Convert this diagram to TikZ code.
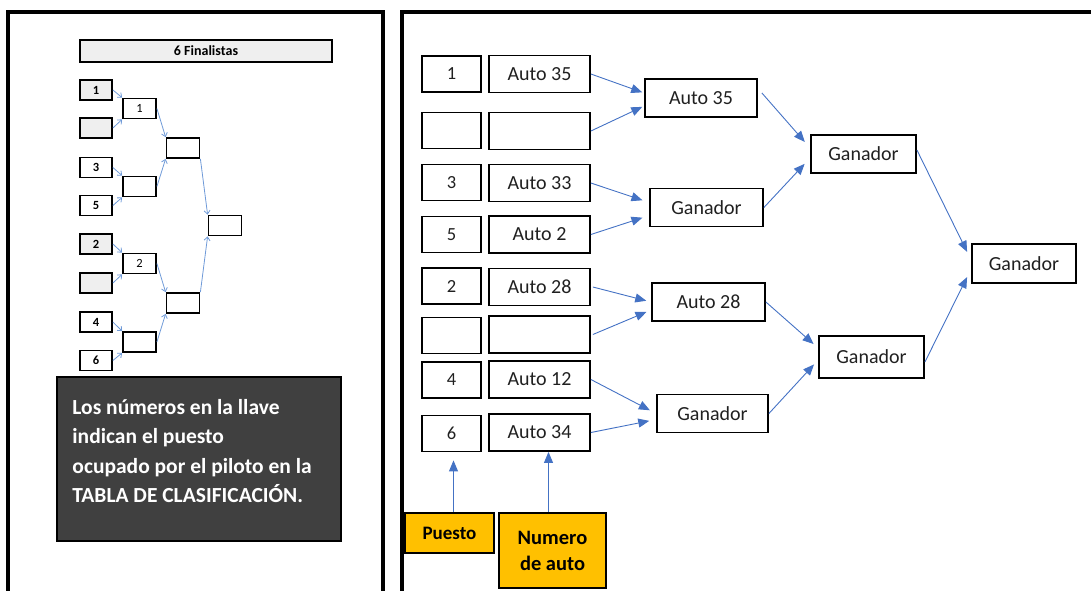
\documentclass[tikz,border=0pt]{standalone}
\usepackage{fontspec}
\setmainfont{Carlito}
\usetikzlibrary{arrows.meta}
\definecolor{arrowblue}{HTML}{4472C4}
\definecolor{lightblue}{HTML}{6F9AD8}
\definecolor{notegray}{HTML}{404040}
\definecolor{keyyellow}{HTML}{FFC000}
\definecolor{seedgray}{HTML}{EFEFEF}
\definecolor{inktext}{HTML}{202020}
\tikzset{
  frameline/.style={line width=4pt},
  titlebar/.style={draw, line width=1.8pt, fill=seedgray, minimum width=252pt, minimum height=22pt, inner sep=0pt, font=\fontsize{14}{16}\selectfont\bfseries},
  seedbox/.style={draw, line width=1.8pt, minimum width=32pt, minimum height=20pt, inner sep=0pt, font=\fontsize{12.5}{14}\selectfont\bfseries},
  roundbox/.style={draw, line width=1.8pt, minimum width=33pt, minimum height=20pt, inner sep=0pt, font=\fontsize{12.5}{14}\selectfont},
  thinarrow/.style={draw=lightblue, line width=0.8pt, -{Straight Barb[length=3.5pt,width=6pt]}},
  notebox/.style={draw, line width=1.5pt, fill=notegray, minimum width=284pt, minimum height=164pt},
  notetext/.style={text=white, align=left, inner sep=0pt, font=\fontsize{21.5}{29.3}\selectfont\bfseries},
  posbox/.style={draw, line width=1.8pt, minimum width=59pt, minimum height=36pt, inner sep=0pt, text=inktext, font=\fontsize{18.5}{21}\selectfont},
  carbox/.style={draw, line width=1.8pt, minimum width=101pt, minimum height=37pt, inner sep=0pt, text=inktext, font=\fontsize{20}{23}\selectfont},
  winbox/.style={draw, line width=1.8pt, minimum width=110pt, minimum height=38pt, inner sep=0pt, text=inktext, font=\fontsize{20}{23}\selectfont},
  keybox/.style={draw, line width=1.8pt, fill=keyyellow, inner sep=0pt, align=center, font=\fontsize{19}{26}\selectfont\bfseries},
  wayarrow/.style={draw=arrowblue, line width=0.9pt, -{Triangle[length=11pt,width=9pt]}}
}
\begin{document}
\begin{tikzpicture}[x=1pt,y=-1pt]
	\clip (0,0) rectangle (1091,590);
	
	% panel frames
	\draw[frameline] (8,600) -- (8,12) -- (382.5,12) -- (382.5,600);
	\draw[frameline] (402,600) -- (402,11.5) -- (1100,11.5);
	
	% left panel: small bracket
	\node[titlebar] (title) at (206,51) {6 Finalistas};
	\node[seedbox, fill=seedgray] (s1) at (96,90) {1};
	\node[seedbox, fill=seedgray] (s2) at (96,128) {};
	\node[seedbox] (s3) at (96,167.5) {3};
	\node[seedbox] (s4) at (96,205.5) {5};
	\node[seedbox, fill=seedgray] (s5) at (96,244) {2};
	\node[seedbox, fill=seedgray] (s6) at (96,283) {};
	\node[seedbox] (s7) at (96,322) {4};
	\node[seedbox] (s8) at (96,360.5) {6};
	\node[roundbox] (q1) at (139.5,108.5) {1};
	\node[roundbox] (q2) at (139.5,186.5) {};
	\node[roundbox] (q3) at (139.5,263.5) {2};
	\node[roundbox] (q4) at (139.5,342) {};
	\node[roundbox] (h1) at (183,148) {};
	\node[roundbox] (h2) at (183,303) {};
	\node[roundbox] (fin) at (225,225.5) {};
	
	\draw[thinarrow] (s1.east) -- (q1.north west);
	\draw[thinarrow] (s2.east) -- (q1.south west);
	\draw[thinarrow] (s3.east) -- (q2.north west);
	\draw[thinarrow] (s4.east) -- (q2.south west);
	\draw[thinarrow] (s5.east) -- (q3.north west);
	\draw[thinarrow] (s6.east) -- (q3.south west);
	\draw[thinarrow] (s7.east) -- (q4.north west);
	\draw[thinarrow] (s8.east) -- (q4.south west);
	\draw[thinarrow] (q1.east) -- (h1.north west);
	\draw[thinarrow] (q2.east) -- (h1.south west);
	\draw[thinarrow] (q3.east) -- (h2.north west);
	\draw[thinarrow] (q4.east) -- (h2.south west);
	\draw[thinarrow] (h1.south east) -- (fin.north west);
	\draw[thinarrow] (h2.north east) -- (fin.south west);
	
	% left panel: note
	\node[notebox] (note) at (199,459) {};
	\node[notetext, anchor=north west] (notetxt) at ([xshift=16pt,yshift=-23pt]note.north west)
	  {Los números en la llave\\indican el puesto\\ocupado por el piloto en la\\TABLA DE CLASIFICACIÓN.};
	
	% right panel: positions and cars
	\node[posbox] (p1) at (451.5,74) {1};
	\node[posbox] (p2) at (451.5,130.5) {};
	\node[posbox] (p3) at (451.5,182.5) {3};
	\node[posbox] (p4) at (451.5,234.5) {5};
	\node[posbox] (p5) at (451.5,286) {2};
	\node[posbox] (p6) at (451.5,335.5) {};
	\node[posbox] (p7) at (451.5,380) {4};
	\node[posbox] (p8) at (451.5,433.5) {6};
	\node[carbox] (a1) at (539.5,74) {Auto 35};
	\node[carbox] (a2) at (539.5,131) {};
	\node[carbox] (a3) at (539.5,183) {Auto 33};
	\node[carbox] (a4) at (539.5,234.5) {Auto 2};
	\node[carbox] (a5) at (539.5,287) {Auto 28};
	\node[carbox] (a6) at (539.5,334.5) {};
	\node[carbox] (a7) at (539.5,379.5) {Auto 12};
	\node[carbox] (a8) at (539.5,432.5) {Auto 34};
	
	% rounds
	\node[winbox, minimum width=112pt] (b1) at (701,98) {Auto 35};
	\node[winbox, minimum width=113pt] (b2) at (706.5,207.5) {Ganador};
	\node[winbox, minimum width=113pt] (b3) at (708.5,302) {Auto 28};
	\node[winbox, minimum width=111pt] (b4) at (712.5,413.5) {Ganador};
	\node[winbox, minimum width=105pt] (c1) at (863.5,154) {Ganador};
	\node[winbox, minimum width=105pt, minimum height=42pt] (c2) at (871.5,357) {Ganador};
	\node[winbox, minimum width=104pt, minimum height=39pt] (d) at (1024,263.5) {Ganador};
	
	\draw[wayarrow, shorten >=2pt] (a1.east) -- ([yshift=5pt]b1.west);
	\draw[wayarrow, shorten >=2pt] (a2.east) -- ([yshift=-8pt]b1.west);
	\draw[wayarrow, shorten >=7pt] (a3.east) -- ([yshift=5pt]b2.west);
	\draw[wayarrow, shorten >=7pt] (a4.east) -- ([yshift=-8pt]b2.west);
	\draw[wayarrow, shorten >=5pt] ([xshift=2pt]a5.east) -- (b3.west);
	\draw[wayarrow, shorten >=5pt] ([xshift=2pt]a6.east) -- ([yshift=-8pt]b3.west);
	\draw[wayarrow, shorten >=7pt] (a7.east) -- (b4.west);
	\draw[wayarrow, shorten >=7pt] (a8.east) -- ([yshift=-6pt]b4.west);
	\draw[wayarrow, shorten >=8pt] ([xshift=4pt,yshift=5pt]b1.east) -- ([yshift=6pt]c1.west);
	\draw[wayarrow, shorten >=8pt] (b2.east) -- ([yshift=-4pt]c1.west);
	\draw[wayarrow, shorten >=6pt] (b3.east) -- ([yshift=9pt]c2.west);
	\draw[wayarrow, shorten >=6pt] (b4.east) -- ([yshift=-3pt]c2.west);
	\draw[wayarrow, shorten >=9pt] ([yshift=4pt]c1.east) -- ([yshift=3.5pt]d.west);
	\draw[wayarrow, shorten >=9pt] ([yshift=-5pt]c2.east) -- ([yshift=-5.5pt]d.west);
	
	% key boxes
	\node[keybox, minimum width=89pt, minimum height=40pt] (puesto) at (449.5,533) {Puesto};
	\node[keybox, minimum width=107pt, minimum height=75pt, font=\fontsize{20.5}{26}\selectfont\bfseries] (numero) at (552.5,550.5) {Numero\\de auto};
	\draw[wayarrow, shorten >=8pt] ([xshift=4pt]puesto.north) -- ([xshift=4pt]puesto.north |- p8.south);
	\draw[wayarrow] ([xshift=-4pt]numero.north) -- ([xshift=-4pt]numero.north |- a8.south);
\end{tikzpicture}
\end{document}
